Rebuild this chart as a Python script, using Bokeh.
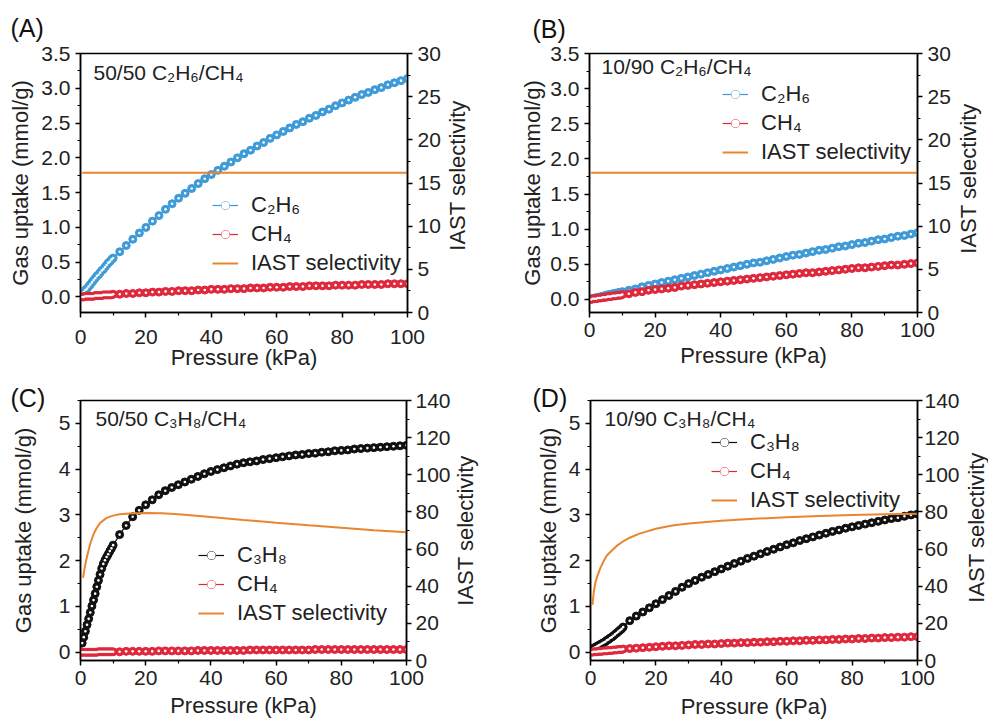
import math
from bokeh.plotting import figure
from bokeh.models import (Range1d, LinearAxis, FixedTicker, PrintfTickFormatter,
                          Legend, LegendItem, Label)
from bokeh.layouts import column, row
from bokeh.embed import file_html
from bokeh.resources import INLINE

# ---------------- data ----------------
# pressure points (kPa) shared by all isotherms
pressure = [0.5, 1.0, 1.5, 2.0, 2.5, 3.0, 3.5, 4.0, 4.5, 5.0, 5.5, 6.0, 6.5, 7.0, 7.5,
            8.0, 8.5, 9.0, 9.5,
            10, 12, 14, 16, 18, 20, 22, 24, 26, 28, 30, 32, 34, 36, 38, 40, 42, 44,
            46, 48, 50, 52, 54, 56, 58, 60, 62, 64, 66, 68, 70, 72, 74, 76, 78, 80,
            82, 84, 86, 88, 90, 92, 94, 96, 98, 100]

# (A) 50/50 C2H6/CH4
a_c2h6 = [0.04, 0.07, 0.10, 0.12, 0.15, 0.18, 0.21, 0.24, 0.27, 0.30, 0.32, 0.35, 0.38,
          0.40, 0.43, 0.46, 0.49, 0.51, 0.54,
          0.56, 0.65, 0.74, 0.83, 0.92, 1.00, 1.09, 1.17, 1.26, 1.34, 1.42, 1.49, 1.56,
          1.63, 1.70, 1.76, 1.82, 1.88, 1.94, 2.00, 2.06, 2.11, 2.17, 2.22, 2.28, 2.33,
          2.38, 2.43, 2.48, 2.52, 2.57, 2.61, 2.66, 2.70, 2.75, 2.79, 2.83, 2.87, 2.91,
          2.94, 2.98, 3.01, 3.05, 3.08, 3.11, 3.14]
a_ch4 = [0.00, 0.00, 0.01, 0.01, 0.01, 0.01, 0.01, 0.01, 0.02, 0.02, 0.02, 0.02, 0.02,
         0.03, 0.03, 0.03, 0.03, 0.03, 0.03,
         0.04, 0.04, 0.05, 0.05, 0.06, 0.06, 0.07, 0.07, 0.08, 0.08, 0.09, 0.09, 0.09,
         0.10, 0.10, 0.11, 0.11, 0.11, 0.12, 0.12, 0.12, 0.13, 0.13, 0.13, 0.14, 0.14,
         0.14, 0.15, 0.15, 0.15, 0.16, 0.16, 0.16, 0.16, 0.17, 0.17, 0.17, 0.17, 0.18,
         0.18, 0.18, 0.18, 0.19, 0.19, 0.19, 0.19]
a_sel_p = [0.5, 20, 40, 60, 80, 100]
a_sel = [16.2, 16.2, 16.2, 16.2, 16.2, 16.2]

# (B) 10/90 C2H6/CH4
b_c2h6 = [0.01, 0.01, 0.02, 0.02, 0.03, 0.03, 0.04, 0.04, 0.05, 0.06, 0.06, 0.07, 0.07,
          0.08, 0.08, 0.09, 0.09, 0.10, 0.10,
          0.11, 0.13, 0.15, 0.18, 0.20, 0.22, 0.24, 0.26, 0.28, 0.30, 0.32, 0.34, 0.36,
          0.38, 0.40, 0.42, 0.44, 0.46, 0.48, 0.50, 0.52, 0.53, 0.55, 0.57, 0.59, 0.61,
          0.63, 0.64, 0.66, 0.68, 0.70, 0.71, 0.73, 0.75, 0.76, 0.78, 0.80, 0.81, 0.83,
          0.85, 0.86, 0.88, 0.90, 0.91, 0.93, 0.95]
b_ch4 = [0.00, 0.01, 0.01, 0.01, 0.02, 0.02, 0.02, 0.03, 0.03, 0.03, 0.04, 0.04, 0.04,
         0.05, 0.05, 0.05, 0.06, 0.06, 0.06,
         0.07, 0.08, 0.10, 0.11, 0.13, 0.14, 0.15, 0.16, 0.17, 0.19, 0.20, 0.21, 0.22,
         0.23, 0.24, 0.25, 0.26, 0.27, 0.28, 0.29, 0.30, 0.31, 0.32, 0.33, 0.34, 0.35,
         0.36, 0.37, 0.38, 0.38, 0.39, 0.40, 0.41, 0.42, 0.43, 0.44, 0.45, 0.45, 0.46,
         0.47, 0.48, 0.49, 0.49, 0.50, 0.51, 0.52]
b_sel_p = [0.5, 20, 40, 60, 80, 100]
b_sel = [16.2, 16.2, 16.2, 16.2, 16.2, 16.2]

# (C) 50/50 C3H8/CH4
c_c3h8 = [0.20, 0.33, 0.46, 0.60, 0.73, 0.87, 1.01, 1.14, 1.28, 1.43, 1.57, 1.70, 1.83,
          1.93, 2.01, 2.08, 2.14, 2.21, 2.27,
          2.34, 2.57, 2.77, 2.96, 3.10, 3.22, 3.33, 3.44, 3.53, 3.60, 3.66, 3.72, 3.78,
          3.84, 3.90, 3.95, 3.99, 4.03, 4.07, 4.11, 4.14, 4.16, 4.18, 4.21, 4.23, 4.25,
          4.27, 4.29, 4.31, 4.32, 4.34, 4.35, 4.37, 4.38, 4.40, 4.41, 4.42, 4.44, 4.45,
          4.46, 4.47, 4.48, 4.49, 4.50, 4.51, 4.52]
c_ch4 = [0.00, 0.00, 0.00, 0.00, 0.00, 0.00, 0.00, 0.00, 0.00, 0.00, 0.01, 0.01, 0.01,
         0.01, 0.01, 0.01, 0.01, 0.01, 0.01,
         0.01, 0.01, 0.02, 0.02, 0.02, 0.02, 0.02, 0.03, 0.03, 0.03, 0.03, 0.03, 0.03,
         0.04, 0.04, 0.04, 0.04, 0.04, 0.04, 0.04, 0.04, 0.05, 0.05, 0.05, 0.05, 0.05,
         0.05, 0.05, 0.05, 0.05, 0.05, 0.06, 0.06, 0.06, 0.06, 0.06, 0.06, 0.06, 0.06,
         0.06, 0.06, 0.06, 0.06, 0.06, 0.06, 0.06]
c_sel_p = [0.8, 1, 1.5, 2, 3, 4, 5, 6, 8, 10, 12, 15, 20, 25, 30, 40, 50, 60, 70, 80, 90, 100]
c_sel = [44.5, 47, 52, 56, 63, 68, 71.5, 74, 76.8, 78, 78.7, 79.1, 79.4, 79.3, 78.8,
         77.3, 75.7, 74.2, 72.8, 71.5, 70.2, 69.0]

# (D) 10/90 C3H8/CH4
d_c3h8 = [0.07, 0.09, 0.11, 0.13, 0.15, 0.17, 0.19, 0.21, 0.23, 0.26, 0.28, 0.31, 0.33,
          0.36, 0.39, 0.42, 0.45, 0.48, 0.51,
          0.55, 0.69, 0.79, 0.88, 0.97, 1.06, 1.15, 1.24, 1.33, 1.42, 1.50, 1.57, 1.64,
          1.70, 1.76, 1.82, 1.88, 1.94, 1.99, 2.05, 2.10, 2.15, 2.20, 2.25, 2.30, 2.35,
          2.39, 2.44, 2.48, 2.52, 2.56, 2.60, 2.64, 2.67, 2.71, 2.74, 2.77, 2.80, 2.83,
          2.86, 2.89, 2.92, 2.94, 2.97, 3.00, 3.02]
d_ch4 = [0.00, 0.01, 0.01, 0.01, 0.02, 0.02, 0.02, 0.03, 0.03, 0.03, 0.04, 0.04, 0.04,
         0.05, 0.05, 0.05, 0.06, 0.06, 0.06,
         0.07, 0.08, 0.09, 0.10, 0.11, 0.12, 0.13, 0.14, 0.14, 0.15, 0.16, 0.17, 0.17,
         0.18, 0.18, 0.19, 0.20, 0.20, 0.21, 0.21, 0.22, 0.22, 0.23, 0.23, 0.24, 0.24,
         0.25, 0.25, 0.26, 0.26, 0.27, 0.27, 0.28, 0.28, 0.29, 0.29, 0.30, 0.30, 0.31,
         0.31, 0.32, 0.32, 0.33, 0.33, 0.34, 0.34]
d_sel_p = [0.6, 1, 1.5, 2, 3, 4, 5, 6, 8, 10, 12, 15, 20, 25, 30, 40, 50, 60, 70, 80, 90, 100]
d_sel = [30, 37, 42, 45, 49.7, 53.5, 56.5, 58.3, 61.7, 64.2, 66.1, 68.3, 70.9, 72.7, 73.8,
         75.2, 76.3, 77.1, 77.8, 78.3, 78.7, 79.0]

x_ticks = [0, 20, 40, 60, 80, 100]
x_minor = [10, 30, 50, 70, 90]

# ---------------- styling ----------------
FONT = "Liberation Sans"
INK = "#222222"
BLUE = "#3f9bd8"
RED = "#e0283c"
BLACK = "#111111"
ORANGE = "#e8862f"
FS = "21px"      # tick labels
FL = "22px"      # axis titles and legend


def style_axis(ax, ticks, minor, fmt, label, standoff, label_standoff=5):
    ax.ticker = FixedTicker(ticks=ticks, minor_ticks=minor)
    ax.formatter = PrintfTickFormatter(format=fmt)
    ax.axis_label = label
    ax.axis_label_standoff = standoff
    ax.axis_label_text_font = FONT
    ax.axis_label_text_font_size = FL
    ax.axis_label_text_font_style = "normal"
    ax.axis_label_text_color = INK
    ax.major_label_text_font = FONT
    ax.major_label_text_font_size = FS
    ax.major_label_text_color = INK
    ax.major_label_standoff = label_standoff
    ax.axis_line_color = "black"
    ax.axis_line_width = 1.5
    ax.major_tick_line_color = "black"
    ax.major_tick_line_width = 1.5
    ax.major_tick_out = 5
    ax.major_tick_in = 0
    ax.minor_tick_line_color = "black"
    ax.minor_tick_line_width = 1.2
    ax.minor_tick_out = 3
    ax.minor_tick_in = 0


def add_series(p, y, color):
    ln = p.line(pressure, y, line_color=color, line_width=1.2)
    sc = p.scatter(pressure, y, marker="circle", size=8, fill_color=color,
                   line_color=color, line_width=1)
    hl = p.scatter(pressure, y, marker="circle", size=2.6, fill_color="white",
                   line_color=None)
    return [ln, sc, hl]


def make_panel(cfg):
    p = figure(width=cfg["w"], height=cfg["h"], output_backend="svg", toolbar_location=None,
               x_range=Range1d(0, 100), y_range=Range1d(*cfg["yr"]),
               min_border_left=cfg["bl"], min_border_right=cfg["br"],
               min_border_top=cfg["bt"], min_border_bottom=cfg["bb"])
    p.xgrid.visible = False
    p.ygrid.visible = False
    p.outline_line_color = "black"
    p.outline_line_width = 1.5
    p.outline_line_alpha = 1
    p.background_fill_color = "white"
    p.border_fill_color = "white"

    # panel letter as a left-aligned title pulled out over the left axis
    p.title.text = cfg["tag"]
    p.title.text_font = FONT
    p.title.text_font_size = "25px"
    p.title.text_font_style = "normal"
    p.title.text_color = "#111111"
    p.title.align = "left"
    p.title.offset = cfg["tag_dx"]
    p.title.standoff = cfg["tag_gap"]

    p.extra_y_ranges = {"sel": Range1d(0, cfg["rmax"])}
    right = LinearAxis(y_range_name="sel")
    p.add_layout(right, "right")

    style_axis(p.xaxis[0], x_ticks, x_minor, "%d", "Pressure (kPa)", cfg["sx"], cfg["xl"])
    style_axis(p.yaxis[0], cfg["lt"], cfg["lm"], cfg["lf"], "Gas uptake (mmol/g)", cfg["sl"])
    style_axis(right, cfg["rt"], cfg["rm"], "%d", None, 0, cfg["rl"])

    heavy = add_series(p, cfg["y1"], cfg["c1"])
    light = add_series(p, cfg["y2"], RED)
    sel = p.line(cfg["sp"], cfg["sv"], line_color=ORANGE, line_width=2, y_range_name="sel")

    legend = Legend(items=[LegendItem(label=cfg["n1"], renderers=heavy),
                           LegendItem(label="CH\u2084", renderers=light),
                           LegendItem(label="IAST selectivity", renderers=[sel])],
                    location=cfg["leg"], orientation="vertical",
                    label_text_font=FONT, label_text_font_size=FL, label_text_color=INK,
                    glyph_width=26, glyph_height=20, label_standoff=13, spacing=3,
                    padding=0, margin=0, border_line_alpha=0, background_fill_alpha=0)
    p.add_layout(legend)

    p.add_layout(Label(x=cfg["note_xy"][0], y=cfg["note_xy"][1], x_units="screen",
                       y_units="screen", text=cfg["note"], text_font=FONT,
                       text_font_size="21px", text_color=INK, text_baseline="top"))
    return p


def right_title(width, panel, cx, cy):
    """Narrow strip carrying the secondary-axis title, reading bottom to top.
    Its frame spans the same rows as the neighbouring panel's frame."""
    f = figure(width=width, height=panel.height, output_backend="svg",
               toolbar_location=None, x_axis_type=None, y_axis_type=None,
               min_border_left=0, min_border_right=0,
               min_border_top=panel.min_border_top,
               min_border_bottom=panel.min_border_bottom,
               x_range=Range1d(0, 1), y_range=Range1d(0, 1))
    f.outline_line_color = None
    f.background_fill_color = "white"
    f.border_fill_color = "white"
    f.add_layout(Label(x=cx, y=cy, x_units="screen", y_units="screen",
                       text="IAST selectivity", angle=math.pi / 2, text_align="center",
                       text_baseline="middle", text_font=FONT, text_font_size=FL,
                       text_color=INK))
    return f


C2H6 = "C\u2082H\u2086"
C3H8 = "C\u2083H\u2088"
CH4 = "CH\u2084"

pa = make_panel(dict(w=444, h=372, bl=80, br=37, bt=53, bb=52, yr=(-0.223, 3.5),
                     lt=[0, 0.5, 1, 1.5, 2, 2.5, 3, 3.5],
                     lm=[0.25, 0.75, 1.25, 1.75, 2.25, 2.75, 3.25], lf="%.1f",
                     rmax=30, rt=[0, 5, 10, 15, 20, 25, 30],
                     rm=[2.5, 7.5, 12.5, 17.5, 22.5, 27.5], rl=5,
                     sx=-2, xl=12, sl=5, y1=a_c2h6, c1=BLUE, n1=C2H6, y2=a_ch4,
                     sp=a_sel_p, sv=a_sel, leg=(132, 36),
                     note="50/50 " + C2H6 + "/" + CH4, note_xy=(13, 252),
                     tag="(A)", tag_dx=-70, tag_gap=23))
pb = make_panel(dict(w=459, h=372, bl=95, br=36, bt=52, bb=57, yr=(-0.186, 3.5),
                     lt=[0, 0.5, 1, 1.5, 2, 2.5, 3, 3.5],
                     lm=[0.25, 0.75, 1.25, 1.75, 2.25, 2.75, 3.25], lf="%.1f",
                     rmax=30, rt=[0, 5, 10, 15, 20, 25, 30],
                     rm=[2.5, 7.5, 12.5, 17.5, 22.5, 27.5], rl=5,
                     sx=3, xl=5, sl=2, y1=b_c2h6, c1=BLUE, n1=C2H6, y2=b_ch4,
                     sp=b_sel_p, sv=b_sel, leg=(133, 147),
                     note="10/90 " + C2H6 + "/" + CH4, note_xy=(12, 258),
                     tag="(B)", tag_dx=-57, tag_gap=22))
pc = make_panel(dict(w=453, h=349, bl=80, br=46, bt=28, bb=57, yr=(-0.18, 5.5),
                     lt=[0, 1, 2, 3, 4, 5], lm=[0.5, 1.5, 2.5, 3.5, 4.5, 5.5], lf="%d",
                     rmax=140, rt=[0, 20, 40, 60, 80, 100, 120, 140],
                     rm=[10, 30, 50, 70, 90, 110, 130], rl=4,
                     sx=5, xl=5, sl=20, y1=c_c3h8, c1=BLACK, n1=C3H8, y2=c_ch4,
                     sp=c_sel_p, sv=c_sel, leg=(118, 34),
                     note="50/50 " + C3H8 + "/" + CH4, note_xy=(15, 254),
                     tag="(C)", tag_dx=-70, tag_gap=-22))
pd = make_panel(dict(w=469, h=349, bl=96, br=46, bt=27, bb=58, yr=(-0.18, 5.5),
                     lt=[0, 1, 2, 3, 4, 5], lm=[0.5, 1.5, 2.5, 3.5, 4.5, 5.5], lf="%d",
                     rmax=140, rt=[0, 20, 40, 60, 80, 100, 120, 140],
                     rm=[10, 30, 50, 70, 90, 110, 130], rl=2,
                     sx=6, xl=5, sl=5, y1=d_c3h8, c1=BLACK, n1=C3H8, y2=d_ch4,
                     sp=d_sel_p, sv=d_sel, leg=(121, 147),
                     note="10/90 " + C3H8 + "/" + CH4, note_xy=(14, 254),
                     tag="(D)", tag_dx=-58, tag_gap=-22))

ra = right_title(50, pa, 13, 137)
rb = right_title(35, pb, 15, 134)
rc = right_title(41, pc, 12, 130)
rd = right_title(25, pd, 13, 133)

layout = column(row(pa, ra, pb, rb), row(pc, rc, pd, rd))
open("out.html", "w").write(file_html(layout, INLINE))
